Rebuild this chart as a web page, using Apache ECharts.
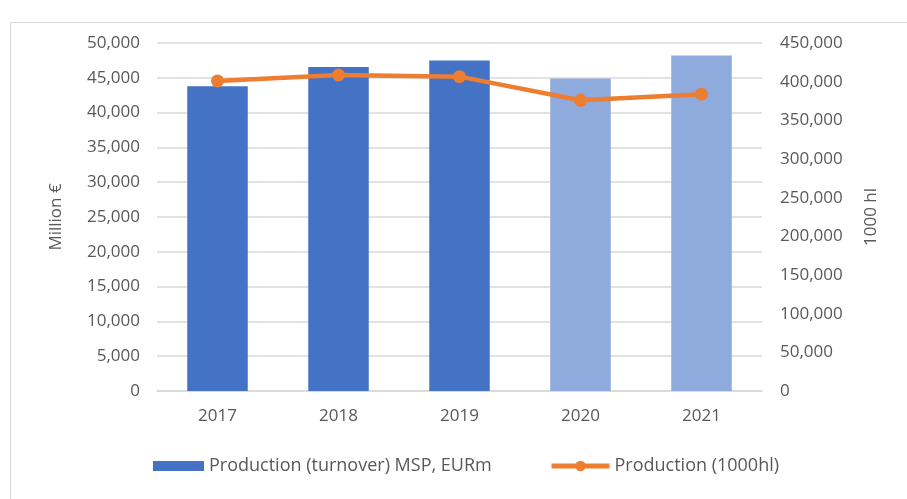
<!DOCTYPE html>
<html>
<head>
<meta charset="utf-8">
<script src="https://cdn.jsdelivr.net/npm/echarts@6/dist/echarts.min.js"></script>
<style>
html, body { margin: 0; padding: 0; background: #fff; }
#main { width: 907px; height: 499px; }
</style>
</head>
<body>
<div id="main"></div>
<script>
var years = ['2017', '2018', '2019', '2020', '2021'];
var turnover = [43800, 46550, 47500, 44900, 48200];   // Million €
var volume = [400900, 408600, 406500, 375900, 383700]; // 1000 hl
var estimated = [false, false, false, true, true];   // lighter bars

var textColor = '#595959';
var fontName = 'Open Sans';

var myChart = echarts.init(document.getElementById('main'));

var barData = [];
for (var i = 0; i < turnover.length; i++) {
	barData.push({
		value: turnover[i],
		itemStyle: { color: estimated[i] ? '#8FAADC' : '#4472C4' }
	});
}

function fmt(v) {
	return v.toLocaleString('en-US');
}

var option = {
	animation: false,
	backgroundColor: '#fff',
	textStyle: { fontFamily: fontName, color: textColor },
	graphic: [{
		type: 'rect',
		shape: { x: 10.5, y: 22.5, width: 920, height: 500 },
		style: { fill: 'none', stroke: '#d9d9d9', lineWidth: 1 },
		silent: true
	}],
	grid: { left: 157, right: 145, top: 43, bottom: 108 },
	legend: [{
		top: 457,
		left: 153,
		padding: 0,
		itemWidth: 51,
		itemHeight: 10,
		textStyle: { fontSize: 18, color: textColor, fontFamily: fontName },
		data: [
			{ name: 'Production (turnover) MSP, EURm', icon: 'rect', itemStyle: { color: '#4472C4' } }
		]
	}, {
		top: 457,
		left: 549,
		padding: 0,
		itemWidth: 58,
		itemHeight: 13,
		textStyle: { fontSize: 18, color: textColor, fontFamily: fontName },
		data: [
			{ name: 'Production (1000hl)', lineStyle: { width: 5 } }
		]
	}],
	xAxis: {
		type: 'category',
		data: years,
		axisLine: { lineStyle: { color: '#d9d9d9', width: 1.5 } },
		axisTick: { show: false },
		axisLabel: { fontSize: 17, color: textColor, margin: 17 }
	},
	yAxis: [{
		type: 'value',
		min: 0,
		max: 50000,
		interval: 5000,
		name: 'Million €',
		nameLocation: 'middle',
		nameRotate: 90,
		nameGap: 92,
		nameTextStyle: { fontSize: 17, color: textColor },
		axisLine: { show: false },
		axisTick: { show: false },
		axisLabel: { fontSize: 17, color: textColor, margin: 17, formatter: fmt },
		splitLine: { lineStyle: { color: '#d9d9d9', width: 1.5 } }
	}, {
		type: 'value',
		min: 0,
		max: 450000,
		interval: 50000,
		name: '1000 hl',
		nameLocation: 'middle',
		nameRotate: 90,
		nameGap: 101,
		nameTextStyle: { fontSize: 17, color: textColor },
		axisLine: { show: false },
		axisTick: { show: false },
		axisLabel: { fontSize: 17, color: textColor, margin: 18, formatter: fmt },
		splitLine: { show: false }
	}],
	series: [{
		name: 'Production (turnover) MSP, EURm',
		type: 'bar',
		barWidth: '50%',
		itemStyle: { color: '#4472C4' },
		data: barData
	}, {
		name: 'Production (1000hl)',
		type: 'line',
		yAxisIndex: 1,
		symbol: 'circle',
		symbolSize: 13,
		lineStyle: { color: '#ED7D31', width: 4.5 },
		itemStyle: { color: '#ED7D31' },
		data: volume
	}]
};
myChart.setOption(option);
</script>
</body>
</html>
